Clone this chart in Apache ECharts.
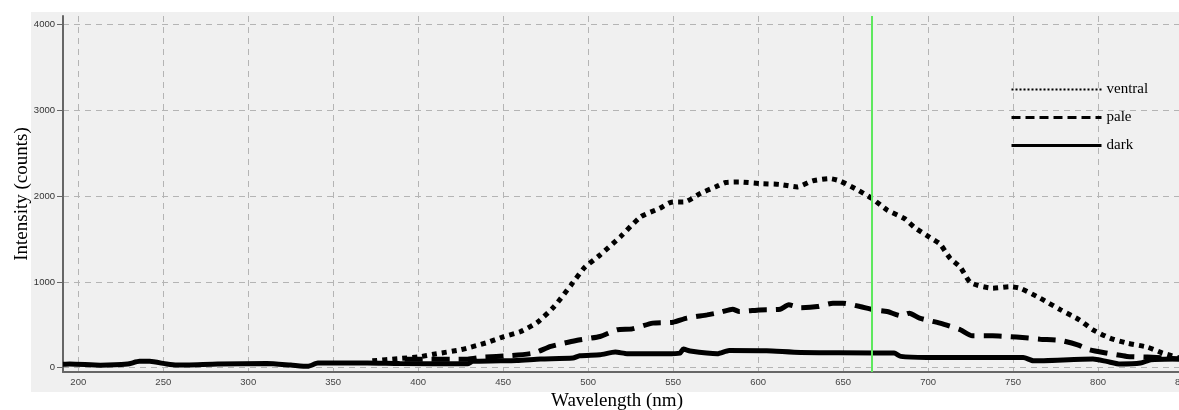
<!DOCTYPE html>
<html>
<head>
<meta charset="utf-8">
<script src="https://cdn.jsdelivr.net/npm/echarts@6/dist/echarts.min.js"></script>
<style>
html,body{margin:0;padding:0;background:#fff;}
#chart{width:1179px;height:410px;}
</style>
</head>
<body>
<div id="chart"></div>
<script>
const xTicks = [200,250,300,350,400,450,500,550,600,650,700,750,800,850];
const yTicks = [0,1000,2000,3000,4000];

const ventralNm  = [373,388,400,410,425,440,450,460,470,480,490,498,507,519,531,542,549,557,566,575,581,589,601,613,623,632,642,648,657,667,676,686,692,701,707,713,719,725,738,748,754,766,778,789,797,807,817,829,838,848];
const ventralVal = [80,105,125,160,210,290,360,420,527,713,965,1170,1314,1527,1760,1857,1930,1934,2031,2109,2159,2165,2147,2136,2108,2178,2205,2178,2089,1973,1837,1740,1636,1520,1442,1275,1171,992,927,945,927,810,674,558,442,345,287,240,171,113];

const paleNm  = [392,405,429,438,454,468,478,493,507,517,526,538,550,558,570,578,585,589,601,613,618,625,635,644,650,660,668,676,684,689,695,707,719,726,738,752,766,778,788,795,805,817,829,840,848];
const paleVal = [100,100,100,124,140,171,248,318,364,442,453,520,531,578,616,647,682,655,674,682,733,700,713,752,752,713,674,655,605,636,578,520,442,372,372,357,333,318,267,209,171,132,124,113,100];

const darkNm  = [191,195,213,229,236,242,252,258,282,311,325,335,341,370,389,429,432,458,472,491,495,507,516,523,546,554,556,560,576,583,605,625,680,684,699,756,762,797,805,813,825,831,848];
const darkVal = [40,43,30,43,74,74,43,31,43,50,31,16,54,54,48,45,74,85,101,112,140,151,182,163,163,171,217,194,163,201,198,178,171,132,120,120,81,101,74,43,54,93,101];

const markerNm = 667;

function pairs(xs, ys){ return xs.map((x,i)=>[x, ys[i]]); }

const chart = echarts.init(document.getElementById('chart'), null, {renderer:'canvas'});
const serif = 'Liberation Serif, Times New Roman, serif';
const sans = 'Liberation Sans, Arial, sans-serif';
const hidden = {color: 'rgba(0,0,0,0)', borderWidth: 0, borderColor: 'rgba(0,0,0,0)'};

chart.setOption({
  animation: false,
  backgroundColor: '#ffffff',
  graphic: [{
    type: 'rect', z: -10, silent: true,
    shape: {x: 31, y: 12, width: 1148, height: 380},
    style: {fill: '#f0f0f0'}
  }],
  grid: {left: 63, top: 16, right: -4, bottom: 38, containLabel: false, outerBoundsMode: 'none'},
  legend: {
    orient: 'vertical', left: 1005, top: 77,
    itemWidth: 90, itemHeight: 14, itemGap: 13,
    textStyle: {fontFamily: serif, fontSize: 15, color: '#000', lineHeight: 14},
    data: [
      {name: 'ventral', itemStyle: hidden, lineStyle: {type: [2,2], width: 2, color: '#000'}},
      {name: 'pale', itemStyle: hidden, lineStyle: {type: [9,5], width: 3, color: '#000'}},
      {name: 'dark', itemStyle: hidden, lineStyle: {type: 'solid', width: 3, color: '#000'}}
    ]
  },
  xAxis: {
    type: 'value', min: 191, max: 850,
    name: 'Wavelength (nm)', nameLocation: 'middle', nameGap: 20, nameMoveOverlap: false,
    nameTextStyle: {fontFamily: serif, fontSize: 19, color: '#000', padding: [0, 12, 0, 0]},
    axisLine: {show: true, onZero: false, lineStyle: {color: '#666', width: 2}},
    axisTick: {show: false, customValues: xTicks},
    axisLabel: {customValues: xTicks, fontFamily: sans, fontSize: 9.5, color: '#444', margin: 5},
    splitLine: {show: true, lineStyle: {color: '#b4b4b4', type: [6,5], width: 1}}
  },
  yAxis: {
    type: 'value', min: -50, max: 4100,
    name: 'Intensity (counts)', nameLocation: 'middle', nameGap: 31, nameMoveOverlap: false,
    nameTextStyle: {fontFamily: serif, fontSize: 19, color: '#000'},
    axisLine: {show: true, lineStyle: {color: '#666', width: 2}},
    axisTick: {show: true, length: 6, customValues: yTicks, lineStyle: {color: '#666', width: 1}},
    axisLabel: {customValues: yTicks, formatter: v => String(v), fontFamily: sans, fontSize: 9.5, color: '#333', margin: 8},
    splitLine: {show: true, lineStyle: {color: '#b4b4b4', type: [6,5], width: 1}}
  },
  series: [
    {
      name: 'ventral', type: 'line', data: pairs(ventralNm, ventralVal),
      showSymbol: false, symbol: 'none', smooth: 0.2,
      lineStyle: {color: '#000', width: 5, type: [5,5], cap: 'butt'},
      itemStyle: {color: '#000'},
      markLine: {
        silent: true, symbol: 'none', label: {show: false},
        lineStyle: {color: '#5ee85e', width: 2, type: 'solid'},
        data: [{xAxis: markerNm}]
      }
    },
    {
      name: 'pale', type: 'line', data: pairs(paleNm, paleVal),
      showSymbol: false, symbol: 'none', smooth: 0.2,
      lineStyle: {color: '#000', width: 5, type: [18,9], cap: 'butt'},
      itemStyle: {color: '#000'}
    },
    {
      name: 'dark', type: 'line', data: pairs(darkNm, darkVal),
      showSymbol: false, symbol: 'none', smooth: 0.2,
      lineStyle: {color: '#000', width: 5, type: 'solid'},
      itemStyle: {color: '#000'}
    }
  ]
});
</script>
</body>
</html>
